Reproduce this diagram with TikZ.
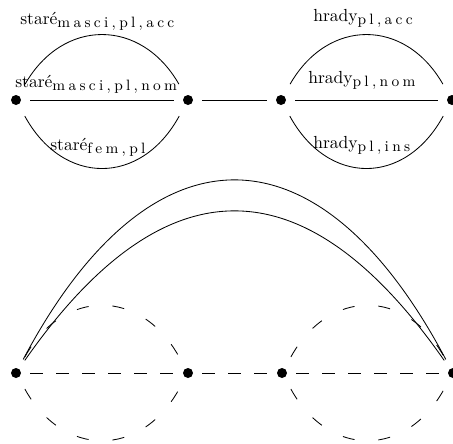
\documentclass[tikz,border=0pt]{standalone}
\usepackage{fontspec}
\setmainfont{Latin Modern Roman}
\newfontfamily\subfont[LetterSpace=22]{Latin Modern Roman}
\newcommand{\wsub}[2]{#1\raisebox{-2pt}{\subfont\fontsize{9}{9}\selectfont #2}}
\begin{document}
\begin{tikzpicture}[x=0.6pt,y=-0.6pt,
  dot/.style={circle,fill=black,inner sep=0pt,minimum size=6pt},
  ln/.style={line width=0.5pt,shorten <=5.4pt,shorten >=5.4pt},
  arcln/.style={line width=0.5pt,shorten <=7.8pt,shorten >=7.8pt},
  bigln/.style={line width=0.5pt,shorten <=6pt,shorten >=6pt},
  dsh/.style={dash pattern=on 7.8pt off 7.8pt},
  arcdsh/.style={dash pattern=on 7.2pt off 14.4pt},
  lbl/.style={anchor=base west,inner sep=0pt,font=\fontsize{10.5}{12}\selectfont}]
\useasboundingbox (0,0) rectangle (453,444);
% top row
\node[dot] (t1) at (16,100) {};
\node[dot] (t2) at (188,100) {};
\node[dot] (t3) at (281,100) {};
\node[dot] (t4) at (452,100) {};
% bottom row
\node[dot] (b1) at (16,373) {};
\node[dot] (b2) at (188,373) {};
\node[dot] (b3) at (282,373) {};
\node[dot] (b4) at (453,373) {};
% top connectors
\draw[arcln] (t1) .. controls +(47,-82) and +(-47,-82) .. (t2);
\draw[arcln] (t1) .. controls +(47,86) and +(-47,86) .. (t2);
\draw[ln] (t1) -- (t2);
\draw[ln] (t2) -- (t3);
\draw[arcln] (t3) .. controls +(47,-82) and +(-47,-82) .. (t4);
\draw[arcln] (t3) .. controls +(47,86) and +(-47,86) .. (t4);
\draw[ln] (t3) -- (t4);
% bottom connectors
\draw[arcln,arcdsh] (b1) .. controls +(47,-85) and +(-47,-85) .. (b2);
\draw[arcln,arcdsh] (b1) .. controls +(47,85) and +(-47,85) .. (b2);
\draw[ln,dsh] (b1) -- (b2);
\draw[ln,dsh] (b2) -- (b3);
\draw[arcln,arcdsh] (b3) .. controls +(47,-85) and +(-47,-85) .. (b4);
\draw[arcln,arcdsh] (b3) .. controls +(47,85) and +(-47,85) .. (b4);
\draw[ln,dsh] (b3) -- (b4);
\draw[bigln] (b1) .. controls +(134,-253) and +(-134,-253) .. (b4);
\draw[bigln] (b1) .. controls +(148,-212) and +(-148,-212) .. (b4);
% labels
\node[lbl] (l1) at (20,24) {\wsub{staré}{masci,pl,acc}};
\node[lbl] (l2) at (15,87) {\wsub{staré}{masci,pl,nom}};
\node[lbl] (l3) at (50,150) {\wsub{staré}{fem,pl}};
\node[lbl] (l4) at (313,21) {\wsub{hrady}{pl,acc}};
\node[lbl] (l5) at (308,83) {\wsub{hrady}{pl,nom}};
\node[lbl] (l6) at (313,148) {\wsub{hrady}{pl,ins}};
\end{tikzpicture}
\end{document}
